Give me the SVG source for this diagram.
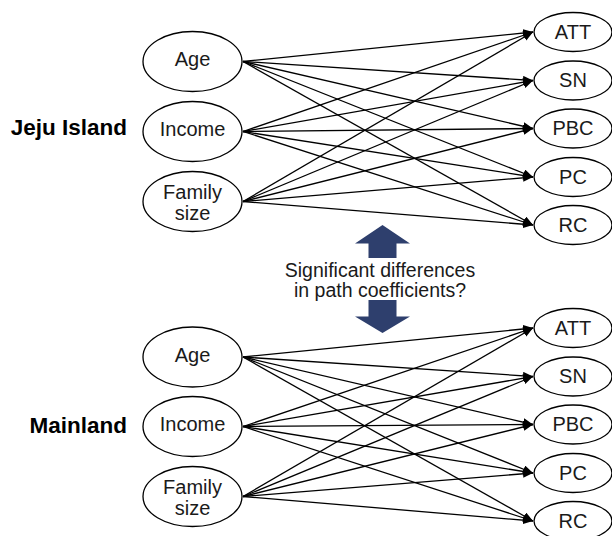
<svg xmlns="http://www.w3.org/2000/svg" width="612" height="536" viewBox="0 0 612 536">
<defs>
<style>
.n{fill:#fff;stroke:#000;stroke-width:1.3}
.t{font-family:"Liberation Sans",Arial,sans-serif;font-size:20px;fill:#1a1a1a;text-anchor:middle}
.g{font-family:"Liberation Sans",Arial,sans-serif;font-size:22.5px;font-weight:bold;fill:#000;text-anchor:end}
.c line{stroke:#000;stroke-width:1.3;marker-end:url(#ah)}
.big{fill:#2e3f6d}
</style>
<marker id="ah" markerUnits="userSpaceOnUse" markerWidth="11" markerHeight="9" refX="10" refY="4" orient="auto">
<path d="M0,0 L10,4 L0,8 z" fill="#000"/>
</marker>
</defs>
<rect width="612" height="536" fill="#fff"/>

<g id="connectors-top" class="c">
<line x1="243" y1="61.5" x2="533" y2="32"/>
<line x1="243" y1="61.5" x2="533" y2="80.5"/>
<line x1="243" y1="61.5" x2="533" y2="128.5"/>
<line x1="243" y1="61.5" x2="533" y2="177"/>
<line x1="243" y1="61.5" x2="533" y2="225"/>
<line x1="243" y1="131.5" x2="533" y2="32"/>
<line x1="243" y1="131.5" x2="533" y2="80.5"/>
<line x1="243" y1="131.5" x2="533" y2="128.5"/>
<line x1="243" y1="131.5" x2="533" y2="177"/>
<line x1="243" y1="131.5" x2="533" y2="225"/>
<line x1="243" y1="201.5" x2="533" y2="32"/>
<line x1="243" y1="201.5" x2="533" y2="80.5"/>
<line x1="243" y1="201.5" x2="533" y2="128.5"/>
<line x1="243" y1="201.5" x2="533" y2="177"/>
<line x1="243" y1="201.5" x2="533" y2="225"/>
</g>
<g id="connectors-bottom" class="c">
<line x1="243" y1="357" x2="533" y2="328"/>
<line x1="243" y1="357" x2="533" y2="376.5"/>
<line x1="243" y1="357" x2="533" y2="424.5"/>
<line x1="243" y1="357" x2="533" y2="473"/>
<line x1="243" y1="357" x2="533" y2="521"/>
<line x1="243" y1="426.5" x2="533" y2="328"/>
<line x1="243" y1="426.5" x2="533" y2="376.5"/>
<line x1="243" y1="426.5" x2="533" y2="424.5"/>
<line x1="243" y1="426.5" x2="533" y2="473"/>
<line x1="243" y1="426.5" x2="533" y2="521"/>
<line x1="243" y1="496.5" x2="533" y2="328"/>
<line x1="243" y1="496.5" x2="533" y2="376.5"/>
<line x1="243" y1="496.5" x2="533" y2="424.5"/>
<line x1="243" y1="496.5" x2="533" y2="473"/>
<line x1="243" y1="496.5" x2="533" y2="521"/>
</g>

<text id="label-jeju" class="g" x="127" y="135">Jeju Island</text>
<text id="label-mainland" class="g" x="127" y="433">Mainland</text>

<g id="top-age"><ellipse class="n" cx="192.5" cy="61.5" rx="49.5" ry="30"/><text class="t" x="192.5" y="65.5">Age</text></g>
<g id="top-income"><ellipse class="n" cx="192.5" cy="131.5" rx="49.5" ry="30"/><text class="t" x="192.5" y="136">Income</text></g>
<g id="top-family"><ellipse class="n" cx="192.5" cy="201.5" rx="49.5" ry="30"/><text class="t" x="192.5" y="199">Family</text><text class="t" x="192.5" y="220">size</text></g>

<g id="top-att"><ellipse class="n" cx="573" cy="32" rx="39" ry="19.5"/><text class="t" x="573" y="38.5">ATT</text></g>
<g id="top-sn"><ellipse class="n" cx="573" cy="80.5" rx="39" ry="19.5"/><text class="t" x="573" y="87">SN</text></g>
<g id="top-pbc"><ellipse class="n" cx="573" cy="128.5" rx="39" ry="19.5"/><text class="t" x="573" y="135">PBC</text></g>
<g id="top-pc"><ellipse class="n" cx="573" cy="177" rx="39" ry="19.5"/><text class="t" x="573" y="183.5">PC</text></g>
<g id="top-rc"><ellipse class="n" cx="573" cy="225" rx="39" ry="19.5"/><text class="t" x="573" y="231.5">RC</text></g>

<g id="bottom-age"><ellipse class="n" cx="192.5" cy="357" rx="49.5" ry="30"/><text class="t" x="192.5" y="361.5">Age</text></g>
<g id="bottom-income"><ellipse class="n" cx="192.5" cy="426.5" rx="49.5" ry="30"/><text class="t" x="192.5" y="431">Income</text></g>
<g id="bottom-family"><ellipse class="n" cx="192.5" cy="496.5" rx="49.5" ry="30"/><text class="t" x="192.5" y="494">Family</text><text class="t" x="192.5" y="515">size</text></g>

<g id="bottom-att"><ellipse class="n" cx="573" cy="328" rx="39" ry="19.5"/><text class="t" x="573" y="334.5">ATT</text></g>
<g id="bottom-sn"><ellipse class="n" cx="573" cy="376.5" rx="39" ry="19.5"/><text class="t" x="573" y="383">SN</text></g>
<g id="bottom-pbc"><ellipse class="n" cx="573" cy="424.5" rx="39" ry="19.5"/><text class="t" x="573" y="431">PBC</text></g>
<g id="bottom-pc"><ellipse class="n" cx="573" cy="473" rx="39" ry="19.5"/><text class="t" x="573" y="479.5">PC</text></g>
<g id="bottom-rc"><ellipse class="n" cx="573" cy="521" rx="39" ry="19.5"/><text class="t" x="573" y="527.5">RC</text></g>

<g id="comparison">
<path class="big" d="M382.5,225 L410,243.5 L396.5,243.5 L396.5,258 L368.5,258 L368.5,243.5 L355,243.5 Z"/>
<path class="big" d="M382.5,333 L410,316.5 L396.5,316.5 L396.5,300 L368.5,300 L368.5,316.5 L355,316.5 Z"/>
<text class="t" x="380" y="277" style="font-size:19.5px">Significant differences</text>
<text class="t" x="380" y="297" style="font-size:19.5px">in path coefficients?</text>
</g>
</svg>
